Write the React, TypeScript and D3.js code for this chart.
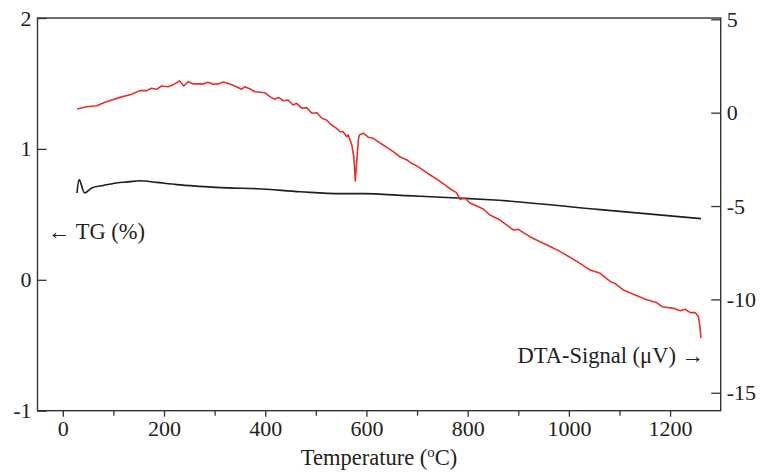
import React, { useEffect, useRef } from 'react';
import * as d3 from 'd3';

// DTA signal (red, right axis)
const dtaTemp = [28, 47, 67, 86, 113, 136, 152, 166, 175, 185, 195, 208, 221, 231, 239, 248, 258, 277, 287, 297, 307, 317, 330, 343, 353, 360, 370, 380, 399, 409, 419, 426, 436, 445, 455, 462, 472, 482, 492, 502, 512, 521, 531, 541, 548, 554, 561, 564, 571, 575, 578, 581, 584, 586, 594, 604, 613, 623, 633, 643, 653, 666, 680, 689, 702, 716, 729, 742, 755, 769, 778, 785, 795, 805, 818, 831, 844, 864, 890, 900, 923, 943, 963, 983, 1002, 1022, 1042, 1062, 1082, 1091, 1108, 1131, 1151, 1174, 1184, 1207, 1220, 1230, 1240, 1250, 1256, 1259, 1261];
const dtaValue = [0.20, 0.32, 0.37, 0.59, 0.82, 0.99, 1.18, 1.18, 1.31, 1.25, 1.43, 1.39, 1.54, 1.70, 1.43, 1.66, 1.54, 1.54, 1.63, 1.52, 1.54, 1.64, 1.54, 1.39, 1.25, 1.39, 1.27, 1.12, 1.07, 0.86, 0.72, 0.82, 0.64, 0.68, 0.41, 0.50, 0.24, 0.27, -0.03, 0.00, -0.30, -0.39, -0.66, -0.84, -1.02, -1.02, -1.29, -1.19, -1.73, -2.36, -3.66, -2.53, -1.46, -1.19, -1.10, -1.32, -1.37, -1.55, -1.73, -1.91, -2.09, -2.36, -2.53, -2.71, -2.89, -3.16, -3.39, -3.61, -3.87, -4.14, -4.28, -4.64, -4.58, -4.85, -5.00, -5.16, -5.48, -5.75, -6.28, -6.25, -6.64, -6.91, -7.17, -7.44, -7.74, -8.07, -8.43, -8.60, -9.05, -9.14, -9.50, -9.76, -9.99, -10.18, -10.39, -10.48, -10.61, -10.53, -10.71, -10.71, -10.93, -11.46, -12.08];

// TG (black, left axis)
const tgTemp = [28, 32, 43, 57, 80, 106, 130, 152, 185, 225, 271, 324, 383, 469, 548, 593, 680, 779, 844, 1062, 1261];
const tgValue = [0.663, 0.765, 0.663, 0.702, 0.721, 0.740, 0.748, 0.757, 0.744, 0.727, 0.714, 0.702, 0.696, 0.673, 0.658, 0.658, 0.643, 0.625, 0.612, 0.536, 0.467];

const xMajor = [0, 200, 400, 600, 800, 1000, 1200];
const xMinor = [100, 300, 500, 700, 900, 1100];
const leftTicks = [-1, 0, 1, 2];
const rightTicks = [-15, -10, -5, 0, 5];

// plain hyphen minus, no thousands separator, like the original plot
const plain = (d: d3.NumberValue) => String(d);

function App() {
  const ref = useRef<SVGSVGElement | null>(null);

  useEffect(() => {
    const width = 763, height = 475;
    const margin = { top: 18, right: 42.3, bottom: 64.3, left: 37.5 };
    const font = 'Liberation Serif, Times New Roman, serif';
    const tickFont = 22;
    const labelFont = 22.5;

    const x = d3.scaleLinear().domain([-50, 1300]).range([margin.left, width - margin.right]);
    const yL = d3.scaleLinear().domain([-1, 2]).range([height - margin.bottom, margin.top]);
    const yR = d3.scaleLinear().domain([-15.96, 5.07]).range([height - margin.bottom, margin.top]);

    const svg = d3.select(ref.current);
    svg.selectAll('*').remove();

    // bottom axis, major + minor ticks outward
    svg.append('g')
      .attr('transform', `translate(0,${height - margin.bottom})`)
      .call(d3.axisBottom(x).tickValues(xMajor).tickSize(6).tickPadding(4).tickSizeOuter(0).tickFormat(plain))
      .call(g => g.select('.domain').remove())
      .call(g => g.selectAll('.tick line').attr('stroke', '#333').attr('stroke-width', 1.3))
      .call(g => g.selectAll('.tick text').attr('font-family', font).attr('font-size', tickFont).attr('fill', '#222'));

    svg.append('g')
      .attr('transform', `translate(0,${height - margin.bottom})`)
      .call(d3.axisBottom(x).tickValues(xMinor).tickSize(5).tickFormat(() => ''))
      .call(g => g.select('.domain').remove())
      .call(g => g.selectAll('.tick line').attr('stroke', '#333').attr('stroke-width', 1.3));

    // left axis, ticks inward
    svg.append('g')
      .attr('transform', `translate(${margin.left},0)`)
      .call(d3.axisLeft(yL).tickValues(leftTicks).tickSize(-9).tickPadding(6).tickFormat(plain))
      .call(g => g.select('.domain').remove())
      .call(g => g.selectAll('.tick line').attr('stroke', '#333').attr('stroke-width', 1.3))
      .call(g => g.selectAll('.tick text').attr('font-family', font).attr('font-size', tickFont).attr('fill', '#222'));

    // right axis, ticks inward
    svg.append('g')
      .attr('transform', `translate(${width - margin.right},0)`)
      .call(d3.axisRight(yR).tickValues(rightTicks).tickSize(-9.5).tickPadding(6).tickFormat(plain))
      .call(g => g.select('.domain').remove())
      .call(g => g.selectAll('.tick line').attr('stroke', '#333').attr('stroke-width', 1.3))
      .call(g => g.selectAll('.tick text').attr('font-family', font).attr('font-size', tickFont).attr('fill', '#222'));

    // frame
    svg.append('rect')
      .attr('x', margin.left)
      .attr('y', margin.top)
      .attr('width', width - margin.left - margin.right)
      .attr('height', height - margin.top - margin.bottom)
      .attr('fill', 'none')
      .attr('stroke', '#333')
      .attr('stroke-width', 1.4);

    const tgData = tgTemp.map((t, i) => [t, tgValue[i]] as [number, number]);
    const dtaData = dtaTemp.map((t, i) => [t, dtaValue[i]] as [number, number]);

    svg.append('path')
      .datum(tgData)
      .attr('fill', 'none')
      .attr('stroke', '#1e1e1e')
      .attr('stroke-width', 1.6)
      .attr('d', d3.line<[number, number]>().x(d => x(d[0])).y(d => yL(d[1])).curve(d3.curveMonotoneX));

    svg.append('path')
      .datum(dtaData)
      .attr('fill', 'none')
      .attr('stroke', '#e8302a')
      .attr('stroke-width', 1.6)
      .attr('stroke-linejoin', 'round')
      .attr('d', d3.line<[number, number]>().x(d => x(d[0])).y(d => yR(d[1])));

    // labels
    svg.append('text')
      .attr('x', 48)
      .attr('y', 239)
      .attr('font-family', font)
      .attr('font-size', labelFont)
      .attr('fill', '#222')
      .text('\u2190 TG (%)');

    svg.append('text')
      .attr('x', 704)
      .attr('y', 363)
      .attr('text-anchor', 'end')
      .attr('font-family', font)
      .attr('font-size', labelFont)
      .attr('fill', '#222')
      .text('DTA-Signal (\u03bcV) \u2192');

    const title = svg.append('text')
      .attr('x', (margin.left + width - margin.right) / 2)
      .attr('y', 465)
      .attr('text-anchor', 'middle')
      .attr('font-family', font)
      .attr('font-size', labelFont)
      .attr('fill', '#222');
    title.append('tspan').text('Temperature (');
    title.append('tspan').attr('font-size', 15).attr('dy', -8).text('o');
    title.append('tspan').attr('dy', 8).text('C)');
  }, []);

  return (
    <svg
      ref={ref}
      width={763}
      height={475}
      style={{ position: 'absolute', left: 0, top: 0, background: '#fff' }}
    />
  );
}

export default App;
